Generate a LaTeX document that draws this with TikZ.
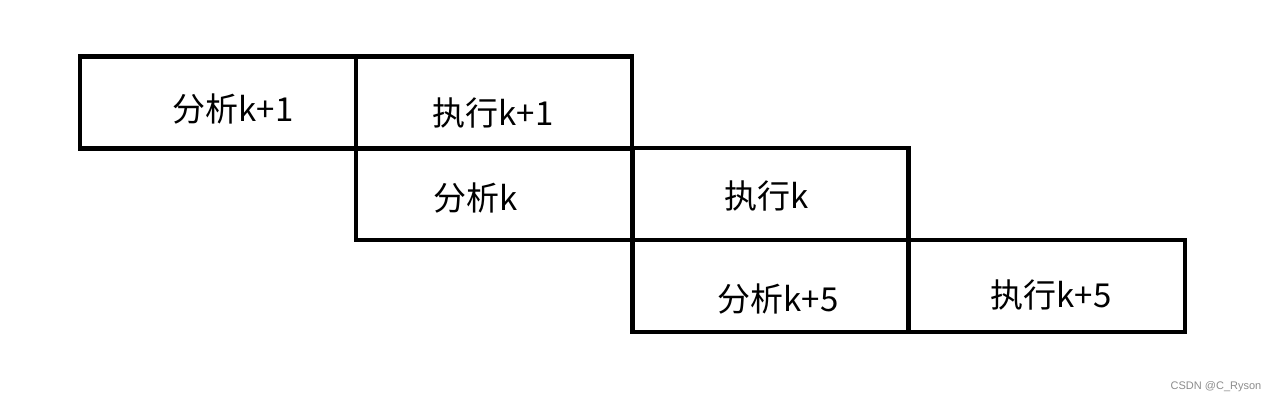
\documentclass[tikz,border=0pt]{standalone}
\usepackage{fontspec}
\newfontfamily\cjkfont{Noto Sans CJK SC}
\newfontfamily\markfont{Liberation Sans}
\begin{document}
\begin{tikzpicture}[x=1bp, y=-1bp,
        stage/.style={draw, line width=4.5bp, minimum width=276bp, minimum height=92bp, inner sep=0pt},
        stagetext/.style={anchor=base, inner sep=0pt, font=\cjkfont\fontsize{33bp}{38bp}\selectfont}]
        \useasboundingbox (0,0) rectangle (1277,404);
        % boxes
        \node[stage] (ana1) at (218,102.5) {};
        \node[stage] (exe1) at (494,102.5) {};
        \node[stage] (ana0) at (494,194) {};
        \node[stage] (exe0) at (770.5,194) {};
        \node[stage] (ana5) at (770.5,286) {};
        \node[stage] (exe5) at (1047,286) {};
        % labels
        \node[stagetext] (ana1text) at (233,121) {分析k+1};
        \node[stagetext] (exe1text) at (493,125) {执行k+1};
        \node[stagetext] (ana0text) at (476,210) {分析k};
        \node[stagetext] (exe0text) at (767,208) {执行k};
        \node[stagetext] (ana5text) at (778,311) {分析k+5};
        \node[stagetext] (exe5text) at (1051,307) {执行k+5};
        \node[font=\markfont\fontsize{11bp}{13bp}\selectfont, text=black!45, inner sep=0pt] (mark) at (1216,387) {CSDN @C\_Ryson};
    \end{tikzpicture}
\end{document}
